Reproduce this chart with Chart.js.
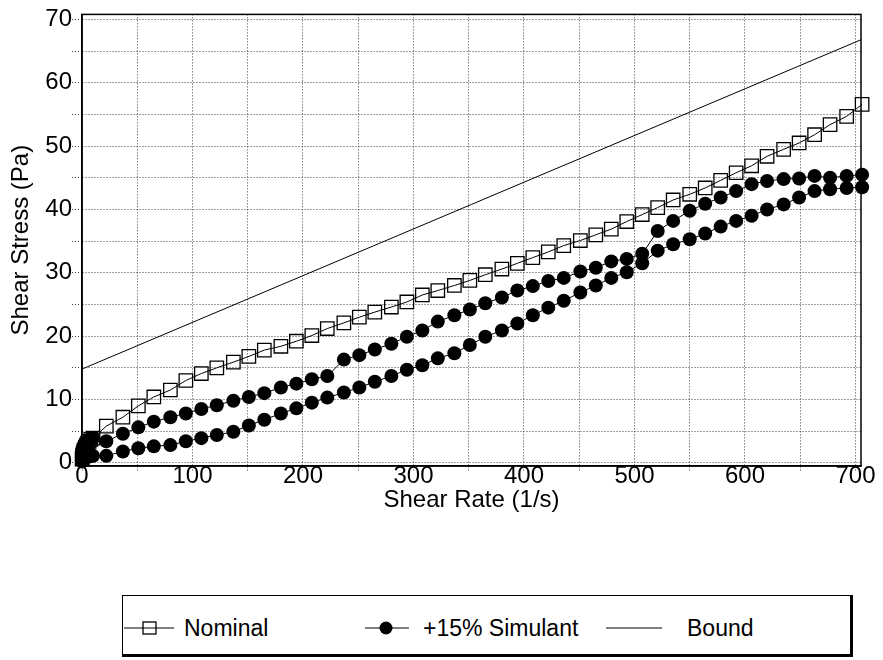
<!DOCTYPE html>
<html>
<head>
<meta charset="utf-8">
<script src="https://cdn.jsdelivr.net/npm/chart.js@4.4.0/dist/chart.umd.min.js"></script>
<style>
    html, body { margin: 0; padding: 0; background: #fff; }
    body { width: 883px; height: 660px; position: relative; overflow: hidden; font-family: "Liberation Sans", Arial, sans-serif; }
    #chart { position: absolute; left: 0; top: 0; }
    #legend-box { position: absolute; left: 122px; top: 595px; width: 727px; height: 58px;
        border-top: 1px solid #000; border-left: 1px solid #000; border-right: 3px solid #000; border-bottom: 3px solid #000; }
    .lg { position: absolute; top: 614px; height: 28px; line-height: 28px; font-size: 23px; color: #000; white-space: nowrap; }
    .mk { position: absolute; top: 614px; }
</style>
</head>
<body>
<canvas id="chart" width="883" height="520"></canvas>
<div id="legend-box"></div>
<svg class="mk" style="left:124px" width="50" height="28"><line x1="0" y1="14" x2="50" y2="14" stroke="#000" stroke-width="1"/><rect x="19" y="8" width="13" height="12" fill="none" stroke="#000" stroke-width="1.3"/></svg>
<div class="lg" style="left:184px">Nominal</div>
<svg class="mk" style="left:365px" width="44" height="28"><line x1="0" y1="14" x2="44" y2="14" stroke="#000" stroke-width="1"/><circle cx="21" cy="14" r="6.5" fill="#000"/></svg>
<div class="lg" style="left:423px">+15% Simulant</div>
<svg class="mk" style="left:606px" width="56" height="28"><line x1="0" y1="14" x2="56" y2="14" stroke="#000" stroke-width="1"/></svg>
<div class="lg" style="left:687px">Bound</div>
<script>
// Shear rate grid (1/s) shared by the ramp points
const shearRate = [22, 37, 51, 65, 80, 94, 108, 122, 137, 151, 165, 180, 194, 208, 222, 237, 251, 265, 280, 294,
    308, 322, 337, 351, 365, 380, 394, 408, 422, 436, 451, 465, 479, 493, 507, 521, 535, 550, 564, 578,
    592, 606, 620, 635, 649, 663, 677, 692, 706];

// Shear stress (Pa)
const nominalStress = [5.8, 7.2, 9.0, 10.4, 11.5, 13.0, 14.1, 15.0, 15.9, 16.8, 17.8, 18.4, 19.2, 20.1, 21.2, 22.1, 23.0, 23.8, 24.6, 25.4,
    26.5, 27.2, 28.0, 28.8, 29.7, 30.6, 31.5, 32.4, 33.3, 34.3, 35.1, 36.0, 36.9, 38.1, 39.2, 40.3, 41.5, 42.4, 43.4, 44.6,
    45.8, 46.9, 48.4, 49.5, 50.5, 51.8, 53.4, 54.7, 56.6];
const simUpStress = [3.4, 4.6, 5.6, 6.5, 7.2, 7.8, 8.5, 9.1, 9.8, 10.4, 11.0, 11.9, 12.5, 13.2, 13.7, 16.3, 17.0, 17.9, 18.8, 19.9,
    20.9, 22.3, 23.3, 24.2, 25.2, 26.1, 27.2, 27.9, 28.7, 29.2, 30.2, 30.8, 31.8, 32.2, 33.0, 36.6, 38.2, 39.8, 40.9, 41.9,
    42.9, 44.0, 44.5, 44.8, 44.9, 45.3, 45.0, 45.3, 45.5];
const simDownStress = [1.1, 1.8, 2.3, 2.6, 2.8, 3.4, 3.9, 4.4, 4.9, 5.9, 6.8, 7.8, 8.6, 9.5, 10.3, 11.1, 11.9, 12.8, 13.7, 14.7,
    15.4, 16.5, 17.3, 18.6, 19.9, 20.9, 22.0, 23.3, 24.5, 25.6, 26.9, 28.0, 29.2, 30.1, 31.5, 33.5, 34.5, 35.3, 36.2, 37.3,
    38.2, 39.0, 40.0, 40.8, 41.9, 42.9, 43.2, 43.4, 43.5];

// Low shear rate points (the dense cluster near the origin)
const lowRate = [0.1, 0.3, 0.6, 1, 1.5, 2, 3, 4, 5, 6.5, 8, 10];
const nominalLowStress = [0.6, 0.9, 1.2, 1.5, 1.8, 2.1, 2.5, 2.8, 3.1, 3.4, 3.7, 3.9];
const simLowUpStress = [0.4, 0.8, 1.2, 1.6, 2.0, 2.4, 2.8, 3.1, 3.4, 3.6, 3.8, 3.9];
const simLowDownStress = [0.2, 0.3, 0.4, 0.5, 0.6, 0.7, 0.8, 0.9, 1.0, 1.0, 1.1, 1.1];

// Bound line
const boundRate = [0, 705];
const boundStress = [14.8, 66.8];

// Axis ticks (gridlines); labels only every other one
const xTicks = [0, 50, 100, 150, 200, 250, 300, 350, 400, 450, 500, 550, 600, 650, 700];
const yTicks = [0, 5, 10, 15, 20, 25, 30, 35, 40, 45, 50, 55, 60, 65, 70];

function toPoints(xs, ys) {
    return xs.map((x, i) => ({ x: x, y: ys[i] }));
}

const nominalPoints = toPoints(lowRate, nominalLowStress).concat(toPoints(shearRate, nominalStress));
const simPoints = toPoints(lowRate, simLowUpStress)
    .concat(toPoints(shearRate, simUpStress))
    .concat(toPoints(shearRate, simDownStress).reverse())
    .concat(toPoints(lowRate, simLowDownStress).reverse());
const boundPoints = toPoints(boundRate, boundStress);

// Frame around the plot area (top and right edges)
const framePlugin = {
    id: 'frame',
    beforeDatasetsDraw(chart) {
        const a = chart.chartArea;
        const ctx = chart.ctx;
        ctx.save();
        ctx.strokeStyle = '#000';
        ctx.lineWidth = 1.5;
        ctx.strokeRect(a.left, a.top, a.right - a.left, a.bottom - a.top);
        ctx.restore();
    }
};

const axisFont = { family: '"Liberation Sans", Arial, sans-serif', size: 24 };
const borderOpts = { color: '#000', width: 1.5, dash: [1, 2] };

new Chart(document.getElementById('chart'), {
    type: 'scatter',
    data: {
        datasets: [
            {
                label: 'Nominal',
                data: nominalPoints,
                showLine: true,
                borderColor: '#000',
                borderWidth: 1,
                pointStyle: 'rect',
                pointRadius: 9.5,
                pointBorderWidth: 1.3,
                pointBorderColor: '#000',
                pointBackgroundColor: 'rgba(0,0,0,0)',
                clip: false
            },
            {
                label: '+15% Simulant',
                data: simPoints,
                showLine: true,
                borderColor: '#000',
                borderWidth: 1,
                pointStyle: 'circle',
                pointRadius: 7,
                pointBorderWidth: 0,
                pointBackgroundColor: '#000',
                clip: false
            },
            {
                label: 'Bound',
                data: boundPoints,
                showLine: true,
                borderColor: '#000',
                borderWidth: 1,
                pointRadius: 0
            }
        ]
    },
    options: {
        responsive: false,
        animation: false,
        layout: { padding: { top: 13, right: 22, left: 0, bottom: 0 } },
        plugins: {
            legend: { display: false },
            tooltip: { enabled: false }
        },
        scales: {
            x: {
                type: 'linear',
                min: 0,
                max: 705,
                afterBuildTicks: s => { s.ticks = xTicks.map(v => ({ value: v })); },
                afterFit: s => { s.height = 54; },
                ticks: {
                    autoSkip: false,
                    maxRotation: 0,
                    padding: -10,
                    color: '#000',
                    font: axisFont,
                    callback: v => (v % 100 === 0 ? v : '')
                },
                grid: { color: 'rgba(0,0,0,0.75)', lineWidth: 1, tickLength: 6, tickBorderDash: [1, 2] },
                border: borderOpts,
                title: {
                    display: true,
                    text: 'Shear Rate (1/s)',
                    color: '#000',
                    font: axisFont,
                    padding: { top: 0, bottom: 5 }
                }
            },
            y: {
                type: 'linear',
                min: -0.5,
                max: 70.8,
                afterBuildTicks: s => { s.ticks = yTicks.map(v => ({ value: v })); },
                afterFit: s => { s.width = 82; },
                ticks: {
                    autoSkip: false,
                    padding: 0,
                    color: '#000',
                    font: axisFont,
                    callback: v => (v % 10 === 0 ? v : '')
                },
                grid: { color: 'rgba(0,0,0,0.75)', lineWidth: 1, tickLength: 10, tickBorderDash: [1, 2] },
                border: borderOpts,
                title: {
                    display: true,
                    text: 'Shear Stress (Pa)',
                    color: '#000',
                    font: axisFont,
                    padding: { top: 7, bottom: 0 }
                }
            }
        }
    },
    plugins: [framePlugin]
});
</script>
</body>
</html>
